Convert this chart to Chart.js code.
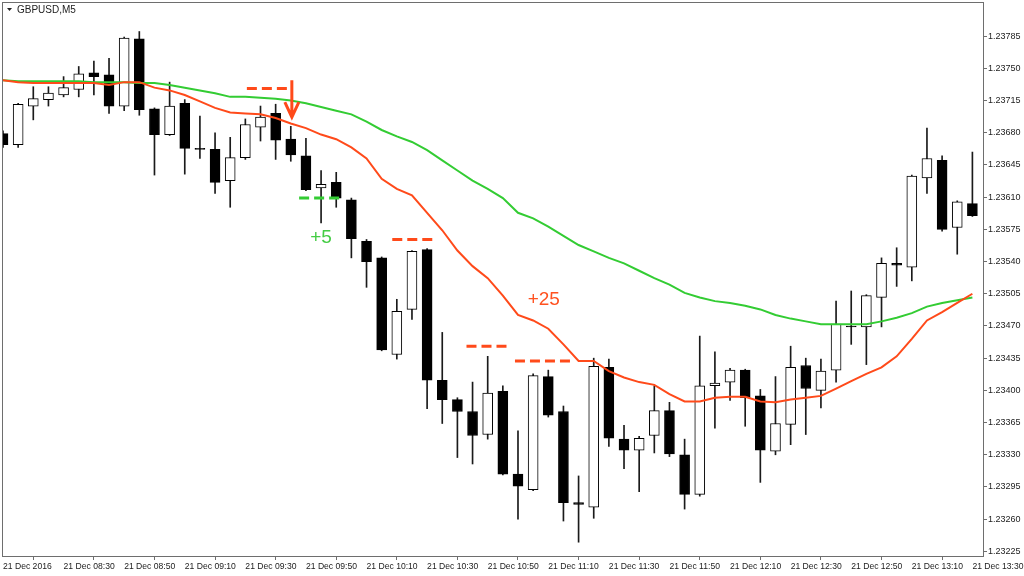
<!DOCTYPE html>
<html>
<head>
<meta charset="utf-8">
<script src="https://cdn.jsdelivr.net/npm/chart.js@4.4.0/dist/chart.umd.min.js"></script>
<style>
  html, body { margin: 0; padding: 0; background: #fff; }
  #wrap { width: 1024px; height: 576px; }
</style>
</head>
<body>
<div id="wrap"><canvas id="chart" width="1024" height="576"></canvas></div>
<script>
// GBPUSD M5, 21 Dec 2016, bars 08:10 .. 13:30
const opens = [1.23679,1.23667,1.23709,1.23716,1.23721,1.23727,1.23745,1.23743,1.23709,1.23782,
  1.23706,1.23678,1.23712,1.23663,1.23662,1.23628,1.23653,1.23686,1.23701,1.23673,
  1.23655,1.23620,1.23626,1.23607,1.23562,1.23544,1.23439,1.23488,1.23553,1.23411,
  1.23390,1.23377,1.23352,1.23399,1.23309,1.23292,1.23415,1.23377,1.23278,1.23273,
  1.23425,1.23347,1.23335,1.23351,1.23378,1.23330,1.23287,1.23405,1.23409,1.23422,
  1.23394,1.23334,1.23363,1.23427,1.23400,1.23422,1.23470,1.23469,1.23501,1.23538,
  1.23534,1.23631,1.23650,1.23577,1.23603];
const highs = [1.23682,1.23712,1.23730,1.23730,1.23741,1.23752,1.23758,1.23761,1.23784,1.23790,
  1.23707,1.23735,1.23716,1.23698,1.23680,1.23675,1.23695,1.23709,1.23711,1.23687,
  1.23674,1.23639,1.23637,1.23609,1.23564,1.23545,1.23499,1.23552,1.23554,1.23463,
  1.23392,1.23409,1.23437,1.23405,1.23356,1.23418,1.23422,1.23383,1.23307,1.23435,
  1.23434,1.23362,1.23350,1.23405,1.23387,1.23347,1.23459,1.23442,1.23424,1.23423,
  1.23401,1.23415,1.23448,1.23435,1.23434,1.23497,1.23508,1.23504,1.23544,1.23555,
  1.23634,1.23685,1.23655,1.23606,1.23659];
const lows = [1.23664,1.23664,1.23694,1.23709,1.23719,1.23719,1.23721,1.23701,1.23704,1.23699,
  1.23634,1.23677,1.23635,1.23652,1.23614,1.23599,1.23651,1.23671,1.23651,1.23649,
  1.23617,1.23582,1.23599,1.23544,1.23512,1.23443,1.23434,1.23477,1.23380,1.23364,
  1.23327,1.23320,1.23347,1.23308,1.23260,1.23291,1.23371,1.23258,1.23235,1.23261,
  1.23339,1.23315,1.23290,1.23332,1.23328,1.23271,1.23285,1.23359,1.23389,1.23361,
  1.23300,1.23330,1.23341,1.23352,1.23381,1.23409,1.23450,1.23428,1.23469,1.23513,
  1.23519,1.23614,1.23573,1.23548,1.23589];
const closes = [1.23667,1.23711,1.23717,1.23723,1.23729,1.23744,1.23741,1.23709,1.23783,1.23705,
  1.23678,1.23709,1.23663,1.23662,1.23626,1.23653,1.23689,1.23697,1.23672,1.23656,
  1.23618,1.23624,1.23609,1.23565,1.23540,1.23444,1.23486,1.23551,1.23411,1.23390,
  1.23377,1.23351,1.23397,1.23309,1.23296,1.23416,1.23373,1.23278,1.23276,1.23426,
  1.23348,1.23335,1.23348,1.23378,1.23331,1.23287,1.23405,1.23408,1.23422,1.23392,
  1.23335,1.23364,1.23425,1.23402,1.23421,1.23472,1.23469,1.23503,1.23538,1.23536,
  1.23633,1.23652,1.23575,1.23605,1.23590];

// moving averages (fast = orange, slow = green)
const maFast = [1.23737,1.23735,1.23734,1.23734,1.23734,1.23734,1.23734,1.23732,1.23735,1.23735,
  1.23729,1.23726,1.23721,1.23714,1.23707,1.23702,1.23701,1.23700,1.23696,1.23690,
  1.23685,1.23678,1.23673,1.23664,1.23652,1.23630,1.23619,1.23612,1.23593,1.23574,
  1.23552,1.23535,1.23522,1.23503,1.23482,1.23476,1.23467,1.23450,1.23432,1.23432,
  1.23421,1.23414,1.23409,1.23406,1.23396,1.23388,1.23388,1.23392,1.23393,1.23393,
  1.23388,1.23387,1.23390,1.23392,1.23394,1.23402,1.23410,1.23418,1.23425,1.23437,
  1.23456,1.23476,1.23485,1.23495,1.23505];
const maSlow = [1.23737,1.23736,1.23736,1.23736,1.23736,1.23736,1.23735,1.23735,1.23735,1.23734,
  1.23734,1.23732,1.23729,1.23726,1.23723,1.23719,1.23719,1.23718,1.23717,1.23715,
  1.23712,1.23708,1.23704,1.23700,1.23692,1.23683,1.23676,1.23670,1.23661,1.23650,
  1.23639,1.23628,1.23619,1.23609,1.23593,1.23587,1.23578,1.23568,1.23558,1.23551,
  1.23544,1.23538,1.23530,1.23522,1.23515,1.23506,1.23501,1.23497,1.23495,1.23492,
  1.23488,1.23482,1.23478,1.23475,1.23472,1.23472,1.23472,1.23472,1.23475,1.23479,
  1.23484,1.23491,1.23495,1.23498,1.23501];

// axis labels (one time label every 4 bars)
const timeLabels = ['21 Dec 2016','21 Dec 08:30','21 Dec 08:50','21 Dec 09:10','21 Dec 09:30',
  '21 Dec 09:50','21 Dec 10:10','21 Dec 10:30','21 Dec 10:50','21 Dec 11:10','21 Dec 11:30',
  '21 Dec 11:50','21 Dec 12:10','21 Dec 12:30','21 Dec 12:50','21 Dec 13:10','21 Dec 13:30'];
const priceTicks = [1.23225,1.23260,1.23295,1.23330,1.23365,1.23400,1.23435,1.23470,1.23505,
  1.23540,1.23575,1.23610,1.23645,1.23680,1.23715,1.23750,1.23785];

// hand-drawn marks, in bar index / price units: [fromBar, toBar, price]
const redDashes = [[16.1, 19.0, 1.23728], [25.7, 28.5, 1.23564], [30.6, 33.5, 1.23448], [33.8, 37.7, 1.23432]];
const greenDashes = [[19.55, 22.5, 1.23609]];
const arrowDown = { bar: 19.07, from: 1.23737, to: 1.23697 };
const notes = [{ text: '+5', bar: 21.0, price: 1.23566, color: '#45cc45' },
               { text: '+25', bar: 35.7, price: 1.23498, color: '#ff5220' }];

const RED = '#ff4a1a';
const GREEN = '#33cc33';
const FONT = '"Liberation Sans", Arial, sans-serif';

const bodies = opens.map((o, i) => ({ x: i, y: [o, closes[i]] }));
const wicks = lows.map((l, i) => ({ x: i, y: [l, highs[i]] }));
const bodyFill = opens.map((o, i) => closes[i] >= o ? '#ffffff' : '#000000');

const overlay = {
  id: 'overlay',
  afterDatasetsDraw(chart) {
    const { ctx, chartArea: a, scales: { x, y } } = chart;
    ctx.save();
    ctx.beginPath();
    ctx.rect(a.left, a.top, a.right - a.left, a.bottom - a.top);
    ctx.clip();

    ctx.lineWidth = 3;
    ctx.setLineDash([10, 5]);
    const dash = (list, color) => list.forEach(([b0, b1, p]) => {
      ctx.strokeStyle = color;
      ctx.beginPath();
      ctx.moveTo(x.getPixelForValue(b0), y.getPixelForValue(p));
      ctx.lineTo(x.getPixelForValue(b1), y.getPixelForValue(p));
      ctx.stroke();
    });
    dash(redDashes, RED);
    dash(greenDashes, GREEN);

    // arrow
    ctx.setLineDash([]);
    const ax = x.getPixelForValue(arrowDown.bar);
    const ay0 = y.getPixelForValue(arrowDown.from);
    const ay1 = y.getPixelForValue(arrowDown.to);
    ctx.strokeStyle = RED;
    ctx.beginPath();
    ctx.moveTo(ax, ay0);
    ctx.lineTo(ax, ay1 - 2);
    ctx.moveTo(ax - 7, ay1 - 15);
    ctx.lineTo(ax, ay1);
    ctx.lineTo(ax + 7, ay1 - 15);
    ctx.stroke();

    ctx.font = '19px ' + FONT;
    ctx.textAlign = 'center';
    ctx.textBaseline = 'middle';
    notes.forEach(n => {
      ctx.fillStyle = n.color;
      ctx.fillText(n.text, x.getPixelForValue(n.bar), y.getPixelForValue(n.price));
    });
    ctx.restore();

    // frame + symbol caption
    ctx.save();
    ctx.strokeStyle = '#6e6e6e';
    ctx.lineWidth = 1;
    ctx.strokeRect(a.left - 0.5, a.top - 0.5, a.right - a.left + 1, a.bottom - a.top + 1);
    ctx.fillStyle = '#222';
    ctx.beginPath();
    ctx.moveTo(7, 8); ctx.lineTo(12, 8); ctx.lineTo(9.5, 11); ctx.closePath();
    ctx.fill();
    ctx.font = '10px ' + FONT;
    ctx.textAlign = 'left';
    ctx.textBaseline = 'middle';
    ctx.fillText('GBPUSD,M5', 17, 10);
    ctx.restore();
  }
};

new Chart(document.getElementById('chart'), {
  type: 'bar',
  data: {
    datasets: [
      { type: 'line', data: maSlow.map((v, i) => ({ x: i, y: v })), borderColor: GREEN, borderWidth: 2,
        pointRadius: 0, tension: 0, order: 1 },
      { type: 'line', data: maFast.map((v, i) => ({ x: i, y: v })), borderColor: RED, borderWidth: 2,
        pointRadius: 0, tension: 0, order: 0 },
      { data: bodies, backgroundColor: bodyFill, borderColor: '#000', borderWidth: 1,
        borderSkipped: false, barThickness: 10, grouped: false, order: 2 },
      { data: wicks, backgroundColor: '#1a1a1a', borderWidth: 0, barThickness: 1,
        grouped: false, order: 3 }
    ]
  },
  options: {
    responsive: false,
    animation: false,
    layout: { padding: { left: 3, top: 3 } },
    plugins: { legend: { display: false }, tooltip: { enabled: false } },
    scales: {
      x: {
        type: 'linear',
        min: 0,
        max: 64.7,
        offset: false,
        afterBuildTicks: s => { s.ticks = timeLabels.map((t, k) => ({ value: k * 4 })); },
        afterFit: s => { s.height = 20; s.paddingLeft = 0; s.paddingRight = 0; },
        grid: { drawOnChartArea: false, drawTicks: true, tickLength: 4, color: '#6e6e6e' },
        border: { color: '#6e6e6e' },
        ticks: {
          autoSkip: false, maxRotation: 0, align: 'start', padding: 1,
          color: '#222', font: { family: FONT, size: 8.6 },
          callback: (v, idx) => timeLabels[idx]
        }
      },
      y: {
        position: 'right',
        min: 1.23220,
        max: 1.23821,
        afterBuildTicks: s => { s.ticks = priceTicks.map(v => ({ value: v })); },
        afterFit: s => { s.width = 41; s.paddingTop = 0; s.paddingBottom = 0; },
        grid: { drawOnChartArea: false, drawTicks: true, tickLength: 4, color: '#6e6e6e' },
        border: { color: '#6e6e6e' },
        ticks: {
          padding: 1, color: '#222', font: { family: FONT, size: 9 },
          callback: v => v.toFixed(5)
        }
      }
    }
  },
  plugins: [overlay]
});
</script>
</body>
</html>
